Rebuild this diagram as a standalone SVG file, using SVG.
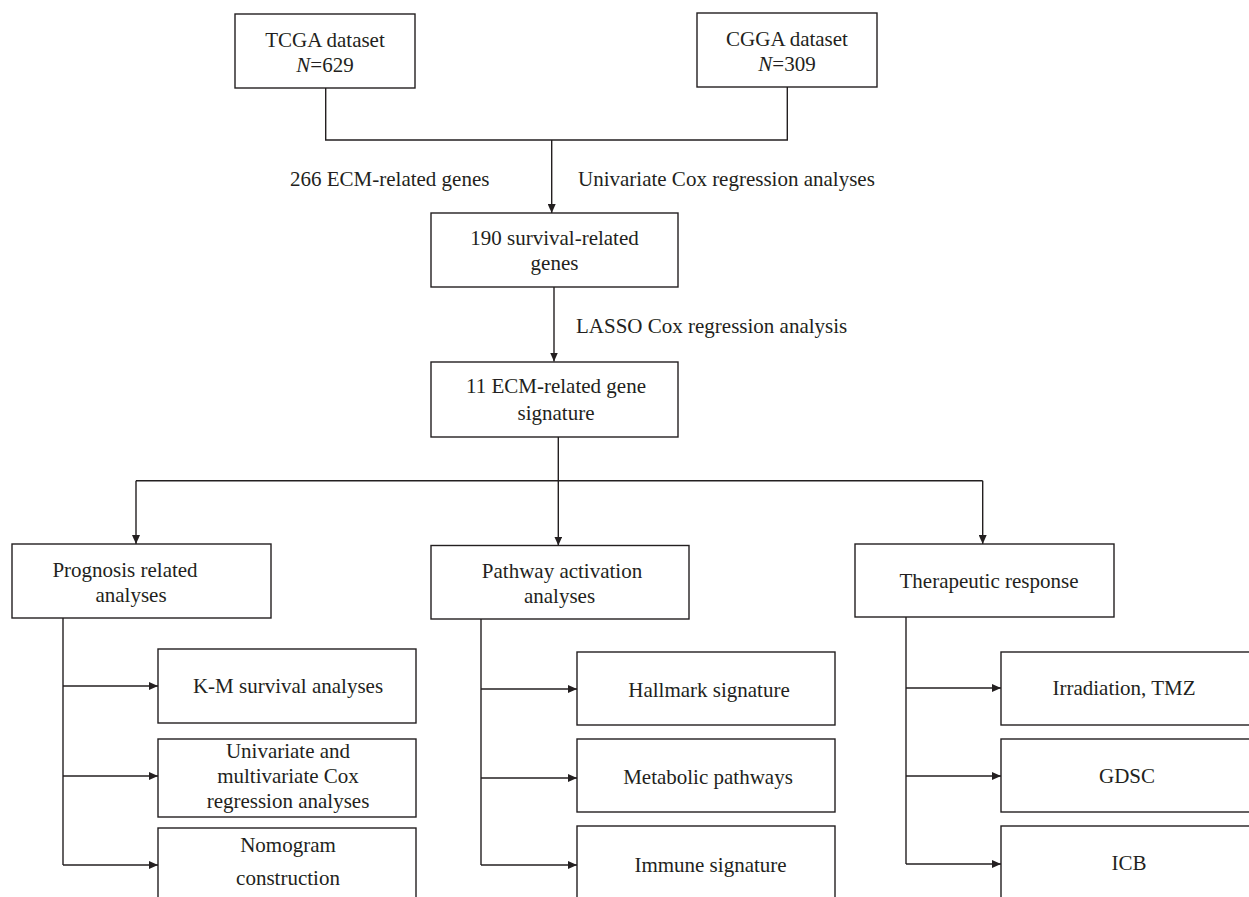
<svg xmlns="http://www.w3.org/2000/svg" width="1249" height="897" viewBox="0 0 1249 897" font-family="'Liberation Serif', 'DejaVu Serif', serif" font-size="21">
<style>
.box{fill:#fff;stroke:#231f20;stroke-width:1.4}
.ln{fill:none;stroke:#231f20;stroke-width:1.4}
text{font-family:'Liberation Serif','DejaVu Serif',serif;font-size:21px;fill:#231f20}
.c{text-anchor:middle}
</style>
<defs>
<marker id="ah" viewBox="0 0 9 8" refX="9" refY="4" markerWidth="9" markerHeight="8" markerUnits="userSpaceOnUse" orient="auto">
<path d="M0,0 L9,4 L0,8 z" fill="#231f20"/>
</marker>
</defs>
<rect width="1249" height="897" fill="#fff"/>
<g id="connectors">
<path class="ln" d="M325.7,88 V140 H787.3 V87"/>
<path class="ln" d="M551.7,140 V213" marker-end="url(#ah)"/>
<path class="ln" d="M554,287 V361.5" marker-end="url(#ah)"/>
<path class="ln" d="M558.3,437 V480.7"/>
<path class="ln" d="M136,480.7 H982.7"/>
<path class="ln" d="M136,480.7 V544" marker-end="url(#ah)"/>
<path class="ln" d="M558.3,480.7 V545.5" marker-end="url(#ah)"/>
<path class="ln" d="M982.7,480.7 V544" marker-end="url(#ah)"/>
<path class="ln" d="M63,618 V865"/>
<path class="ln" d="M63,686 H158" marker-end="url(#ah)"/>
<path class="ln" d="M63,776 H158" marker-end="url(#ah)"/>
<path class="ln" d="M63,865 H158" marker-end="url(#ah)"/>
<path class="ln" d="M481,619 V865"/>
<path class="ln" d="M481,689 H577" marker-end="url(#ah)"/>
<path class="ln" d="M481,778 H577" marker-end="url(#ah)"/>
<path class="ln" d="M481,865 H577" marker-end="url(#ah)"/>
<path class="ln" d="M906,617 V864"/>
<path class="ln" d="M906,688 H1001" marker-end="url(#ah)"/>
<path class="ln" d="M906,776 H1001" marker-end="url(#ah)"/>
<path class="ln" d="M906,864 H1001" marker-end="url(#ah)"/>
<text x="290" y="186">266 ECM-related genes</text>
<text x="578" y="186">Univariate Cox regression analyses</text>
<text x="576" y="333">LASSO Cox regression analysis</text>
</g>
<g id="tcga">
<rect class="box" x="235" y="14" width="180" height="74"/>
<text class="c" x="325" y="47">TCGA dataset</text>
<text class="c" x="325" y="72"><tspan font-style="italic">N</tspan>=629</text>
</g>
<g id="cgga">
<rect class="box" x="697" y="13" width="180" height="74"/>
<text class="c" x="787" y="46">CGGA dataset</text>
<text class="c" x="787" y="71"><tspan font-style="italic">N</tspan>=309</text>
</g>
<g id="survival">
<rect class="box" x="431" y="213" width="247" height="74"/>
<text class="c" x="554.5" y="245">190 survival-related</text>
<text class="c" x="554.5" y="270">genes</text>
</g>
<g id="signature">
<rect class="box" x="431" y="362" width="247" height="75"/>
<text class="c" x="556" y="393">11 ECM-related gene</text>
<text class="c" x="556" y="420">signature</text>
</g>
<g id="prognosis">
<rect class="box" x="12" y="544" width="259" height="74"/>
<text class="c" x="125" y="577">Prognosis related</text>
<text class="c" x="131" y="602">analyses</text>
</g>
<g id="pathway">
<rect class="box" x="431" y="545.5" width="258" height="73.5"/>
<text class="c" x="562" y="578">Pathway activation</text>
<text class="c" x="559.5" y="603">analyses</text>
</g>
<g id="therapeutic">
<rect class="box" x="855" y="544" width="259" height="73"/>
<text class="c" x="989" y="588">Therapeutic response</text>
</g>
<g id="km">
<rect class="box" x="158" y="649" width="258" height="74"/>
<text class="c" x="288" y="693">K-M survival analyses</text>
</g>
<g id="cox">
<rect class="box" x="158" y="739" width="258" height="78"/>
<text class="c" x="288" y="758">Univariate and</text>
<text class="c" x="288" y="783">multivariate Cox</text>
<text class="c" x="288" y="808">regression analyses</text>
</g>
<g id="nomogram">
<rect class="box" x="158" y="828" width="258" height="80"/>
<text class="c" x="288" y="852">Nomogram</text>
<text class="c" x="288" y="885">construction</text>
</g>
<g id="hallmark">
<rect class="box" x="577" y="652" width="258" height="73"/>
<text class="c" x="709" y="697">Hallmark signature</text>
</g>
<g id="metabolic">
<rect class="box" x="577" y="739" width="258" height="73"/>
<text class="c" x="708" y="784">Metabolic pathways</text>
</g>
<g id="immune">
<rect class="box" x="577" y="826" width="258" height="80"/>
<text class="c" x="710.5" y="872">Immune signature</text>
</g>
<g id="irradiation">
<rect class="box" x="1001" y="652" width="260" height="73"/>
<text class="c" x="1124" y="695">Irradiation, TMZ</text>
</g>
<g id="gdsc">
<rect class="box" x="1001" y="739" width="260" height="73"/>
<text class="c" x="1127" y="783">GDSC</text>
</g>
<g id="icb">
<rect class="box" x="1001" y="826" width="260" height="80"/>
<text class="c" x="1129" y="870">ICB</text>
</g>
</svg>
